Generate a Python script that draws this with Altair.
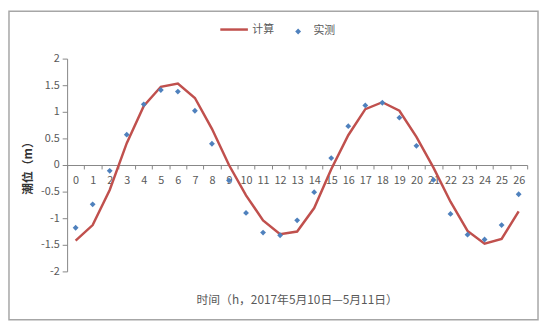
import altair as alt
import pandas as pd

hours = list(range(27))
calc = [-1.42, -1.13, -0.47, 0.41, 1.11, 1.47, 1.53, 1.26, 0.68, 0.00,
        -0.57, -1.04, -1.30, -1.25, -0.81, -0.08, 0.56, 1.05, 1.18, 1.02,
        0.53, -0.05, -0.69, -1.24, -1.48, -1.39, -0.87]
meas = [-1.18, -0.74, -0.11, 0.57, 1.14, 1.41, 1.38, 1.02, 0.40, -0.29,
        -0.90, -1.27, -1.32, -1.04, -0.51, 0.13, 0.73, 1.12, 1.17, 0.89,
        0.36, -0.28, -0.92, -1.31, -1.40, -1.13, -0.55]
y_ticks = [-2, -1.5, -1, -0.5, 0, 0.5, 1, 1.5, 2]

df = pd.DataFrame({"t": hours, "calc": calc, "meas": meas})

FONT = "Noto Sans CJK SC"
RED = "#C0504D"
BLUE = "#4F81BD"
GRAY = "#595959"

W, H = 467, 216
PL, PT, PR, PB = 60, 49, 12, 50

xenc = alt.X("t:O", scale=alt.Scale(type="band", paddingInner=0, paddingOuter=0),
             axis=alt.Axis(title=None, orient="bottom", offset=-H / 2, labelAngle=0,
                           tickBand="extent", tickSize=4, labelPadding=6,
                           domainColor="#868686", tickColor="#868686",
                           labelColor=GRAY, labelFontSize=11, labelFont=FONT, grid=False))
yenc = alt.Y("v:Q", scale=alt.Scale(domain=[-2, 2], nice=False),
             axis=alt.Axis(title="潮位（m）", values=y_ticks, labelExpr="datum.value + ''",
                           tickSize=5, labelPadding=3, grid=False,
                           domainColor="#868686", tickColor="#868686",
                           labelColor=GRAY, labelFontSize=11, labelFont=FONT,
                           titleFont=FONT, titleFontSize=12, titleFontWeight="bold",
                           titleColor="#333333", titlePadding=6))

frame = alt.Chart(pd.DataFrame({"a": [0]})).mark_rect(
    fillOpacity=0, stroke="#A6A6A6", strokeWidth=1.5, clip=False).encode(
    x=alt.value(-PL + 1), x2=alt.value(W + PR - 1),
    y=alt.value(-PT + 1), y2=alt.value(H + PB - 1))

line = alt.Chart(df).transform_calculate(v="datum.calc", s1="'计算'").mark_line(
    strokeWidth=2.5).encode(
    x=xenc, y=yenc,
    color=alt.Color("s1:N", scale=alt.Scale(domain=["计算"], range=[RED]),
                    legend=alt.Legend(title=None, orient="none", legendX=154, legendY=-45,
                                      symbolType="stroke", symbolSize=784,
                                      symbolStrokeWidth=2.5, labelOffset=3,
                                      labelFont=FONT, labelFontSize=11, labelColor=GRAY)))

pts = alt.Chart(df).transform_calculate(v="datum.meas", s2="'实测'").mark_point(
    shape="diamond", filled=True, size=35, opacity=1).encode(
    x=xenc, y=yenc,
    color=alt.Color("s2:N", scale=alt.Scale(domain=["实测"], range=[BLUE]),
                    legend=alt.Legend(title=None, orient="none", legendX=229, legendY=-33,
                                      symbolType="diamond", symbolSize=35, labelOffset=10,
                                      labelFont=FONT, labelFontSize=11, labelColor=GRAY)))

chart = alt.layer(frame, line, pts).resolve_scale(color="independent").properties(
    width=W, height=H,
    autosize=alt.AutoSizeParams(type="none"),
    padding={"left": PL, "top": PT, "right": PR, "bottom": PB},
    title=alt.TitleParams("时间（h，2017年5月10日—5月11日）", orient="bottom",
                          font=FONT, fontSize=12, fontWeight="normal", color=GRAY,
                          offset=-26),
).configure(background="white", view=alt.ViewConfig(stroke=None))

chart.save("out.html", embed_options={"renderer": "svg", "actions": False})
